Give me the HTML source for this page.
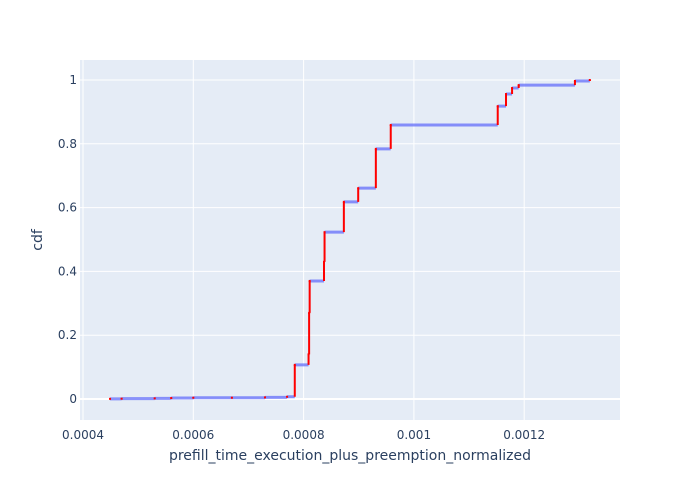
<!DOCTYPE html>
<html><head><meta charset="utf-8"><style>
body{margin:0;background:#fff;font-family:"DejaVu Sans",sans-serif}
svg text{font-family:"DejaVu Sans",sans-serif;fill:#2a3f5f}
</style></head><body>
<svg id="chart" width="700" height="500" xmlns="http://www.w3.org/2000/svg">
<rect x="80" y="60" width="540" height="360" fill="#e5ecf6"/>
<g id="grid"></g><g id="series"></g><g id="ticks"></g>
<text x="350" y="460" text-anchor="middle" font-size="14">prefill_time_execution_plus_preemption_normalized</text>
<text transform="translate(42,240) rotate(-90)" text-anchor="middle" font-size="14">cdf</text>
</svg>
<script>
const xValues=[0.000449,0.00047,0.00053,0.00056,0.00060,0.00067,0.00073,0.00077,0.000784,0.000809,0.00081,0.000811,0.000837,0.000838,0.000873,0.000899,0.000931,0.000958,0.001152,0.001167,0.001178,0.00119,0.001292,0.001319];
const cdfValues=[0.0005,0.001,0.002,0.003,0.004,0.004,0.005,0.007,0.107,0.14,0.27,0.37,0.43,0.523,0.618,0.661,0.784,0.859,0.918,0.956,0.975,0.984,0.997,1.0];
const xTicks=[0.0004,0.0006,0.0008,0.001,0.0012];
const xTickLabels=["0.0004","0.0006","0.0008","0.001","0.0012"];
const yTicks=[0,0.2,0.4,0.6,0.8,1];
const yTickLabels=["0","0.2","0.4","0.6","0.8","1"];
const NS="http://www.w3.org/2000/svg";
const X=v=>83+(v-0.0004)/0.0002*110.3;
const Y=v=>399-v*319;
function mk(p,t,a){const e=document.createElementNS(NS,t);for(const k in a)e.setAttribute(k,a[k]);p.appendChild(e);return e;}
const grid=document.getElementById('grid'),ticks=document.getElementById('ticks'),ser=document.getElementById('series');
xTicks.forEach((v,i)=>{
 const l=mk(grid,'line',{x1:X(v),x2:X(v),y1:60,y2:420,stroke:'#fff','stroke-width':1});
 
 
 const t=mk(ticks,'text',{x:X(v),y:439,'text-anchor':'middle','font-size':12});
 t.textContent=xTickLabels[i];
 
 
});
yTicks.forEach((v,i)=>{
 const l=mk(grid,'line',{x1:80,x2:620,y1:Y(v),y2:Y(v),stroke:'#fff','stroke-width':v===0?2:1});
 
 
 const t=mk(ticks,'text',{x:77,y:Y(v)+4,'text-anchor':'end','font-size':12});
 t.textContent=yTickLabels[i];
 
 
});
let dBlue='',dRed='';
for(let i=0;i<xValues.length;i++){
 const x=X(xValues[i]),y=Y(cdfValues[i]);
 if(i<xValues.length-1){const xn=X(xValues[i+1]);dBlue+=`M${x},${y}H${xn}`;dRed+=`M${xn},${y}V${Y(cdfValues[i+1])}`;}
}
const b=mk(ser,'path',{d:dBlue,stroke:'#636efa','stroke-opacity':0.75,'stroke-width':3,fill:'none'});


const r=mk(ser,'path',{d:dRed,stroke:'#ff0000','stroke-width':2,fill:'none'});


xValues.forEach((v,i)=>{
 const c=mk(ser,'rect',{x:X(v)-1,y:Y(cdfValues[i])-1,width:2,height:2,fill:'#ff0000'});
 
 
});
</script>
</body></html>
